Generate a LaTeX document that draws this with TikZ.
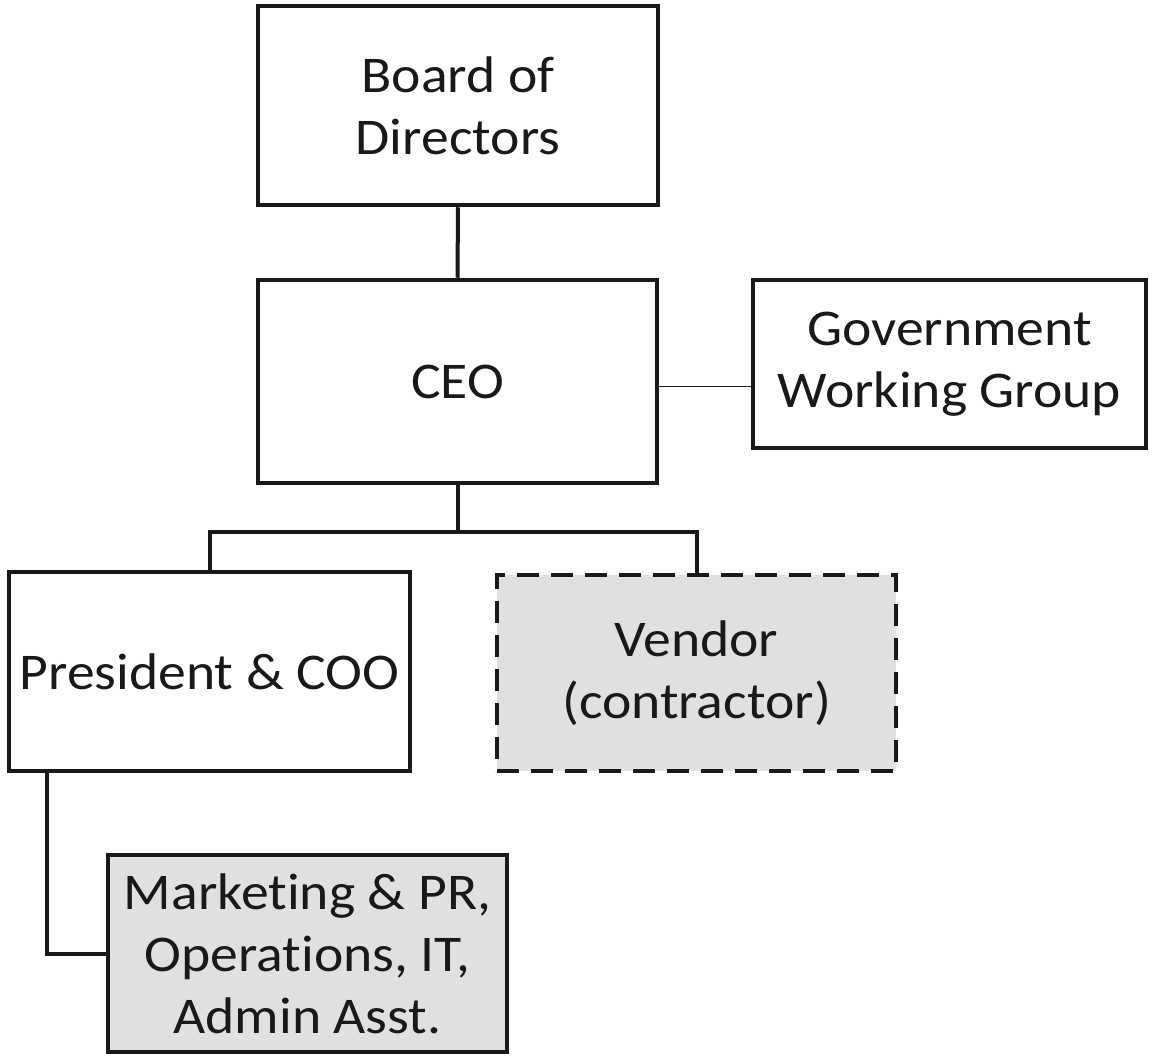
\documentclass[tikz,border=0pt]{standalone}
\usepackage{fontspec}
\setmainfont{Carlito}[FakeStretch=1.08,Ligatures={NoCommon},RawFeature={-liga;-dlig}]
\begin{document}
\begin{tikzpicture}[x=1pt,y=-1pt,
  box/.style={draw=black!90,line width=4.5pt,align=center,inner sep=0pt,
    font=\fontsize{51.5}{62}\selectfont,text=black!90},
  conn/.style={draw=black!90,line width=4pt},
  thinconn/.style={draw=black!90,line width=1.6pt},
  grayfill/.style={fill=black!12}]
\useasboundingbox (0,0) rectangle (1152,1057);
\node[box,minimum width=400pt,minimum height=199pt] (board) at (458,105.5) {Board of\\Directors};
\node[box,minimum width=399pt,minimum height=203pt] (ceo) at (457.5,381.5) {CEO};
\node[box,minimum width=393pt,minimum height=168pt] (gwg) at (949.5,364) {Government\\Working Group};
\node[box,minimum width=401pt,minimum height=199pt] (pres) at (209.5,671.5) {President \& COO};
\node[box,grayfill,dash pattern=on 22pt off 12pt,minimum width=399pt,minimum height=196pt] (vendor) at (696.5,673) {Vendor\\(contractor)};
\node[box,grayfill,minimum width=399pt,minimum height=197pt] (mkt) at (307.5,953.5) {Marketing \& PR,\\Operations, IT,\\Admin Asst.};
\draw[conn] (board.south) -- (ceo.north);
\draw[thinconn] ([yshift=-5pt]ceo.east) -- ([yshift=-5pt]ceo.east -| gwg.west);
\draw[conn] (ceo.south) -- ++(0,47) -| (pres.north);
\draw[conn] (ceo.south) -- ++(0,47) -| (vendor.north);
\draw[conn] ([xshift=40pt]pres.south west) |- (mkt.west);
\end{tikzpicture}
\end{document}
